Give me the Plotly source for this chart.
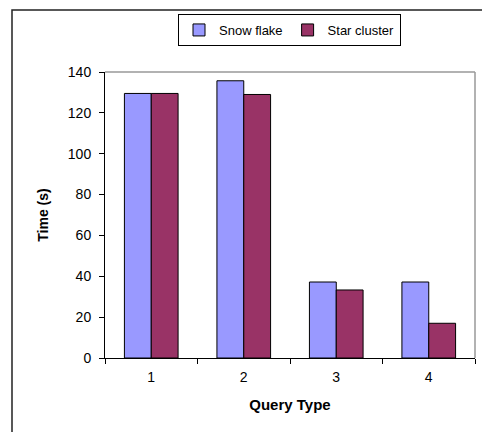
import plotly.graph_objects as go

categories = ["1", "2", "3", "4"]
snow_flake = [129.5, 135.7, 37.2, 37.2]
star_cluster = [129.5, 129.0, 33.3, 17.0]
y_ticks = [0, 20, 40, 60, 80, 100, 120, 140]

fig = go.Figure()
fig.add_trace(go.Bar(x=categories, y=snow_flake, name="Snow flake",
                     marker=dict(color="#9999FF", line=dict(color="#000000", width=1))))
fig.add_trace(go.Bar(x=categories, y=star_cluster, name="Star cluster",
                     marker=dict(color="#993366", line=dict(color="#000000", width=1))))

W, H = 482, 432
L, R, T, B = 105, 7, 72, 74
pw = W - L - R
ph = H - T - B

def px_x(p):
    return (p - L) / pw

def px_y(p):
    return (H - B - p) / ph

fig.update_layout(
    width=W, height=H,
    margin=dict(l=L, r=R, t=T, b=B),
    paper_bgcolor="white", plot_bgcolor="white",
    barmode="group", bargap=0.42, bargroupgap=0,
    font=dict(family="Arial, Liberation Sans, sans-serif", size=14, color="#000000"),
    showlegend=True,
    legend=dict(orientation="h", x=px_x(178), y=px_y(14), xanchor="left", yanchor="top",
                bordercolor="#000000", borderwidth=1, bgcolor="white",
                font=dict(size=13), itemwidth=30, tracegroupgap=0),
    xaxis=dict(type="category", showline=True, linecolor="#000000", linewidth=1,
               ticks="outside", tickson="boundaries", ticklen=5, tickcolor="#000000",
               showgrid=False, tickfont=dict(size=14), ticklabelstandoff=6,
               title=dict(text="<b>Query Type</b>", font=dict(size=15), standoff=15)),
    yaxis=dict(range=[0, 140], tickvals=y_ticks, showline=True, linecolor="#000000", linewidth=1,
               ticks="outside", ticklen=5, tickcolor="#000000", showgrid=False,
               tickfont=dict(size=14), zeroline=False, ticklabelstandoff=5,
               title=dict(text="<b>Time (s)</b>", font=dict(size=14), standoff=15)),
    shapes=[
        dict(type="line", xref="paper", yref="paper", x0=0, x1=1, y0=1, y1=1,
             line=dict(color="#999999", width=1.5), layer="below"),
        dict(type="line", xref="paper", yref="paper", x0=1, x1=1, y0=0, y1=1,
             line=dict(color="#999999", width=1.5), layer="below"),
        dict(type="rect", xref="paper", yref="paper", x0=px_x(12), x1=px_x(490),
             y0=px_y(445), y1=px_y(10), line=dict(color="#222222", width=1.5)),
    ],
)

fig.write_html("out.html")
